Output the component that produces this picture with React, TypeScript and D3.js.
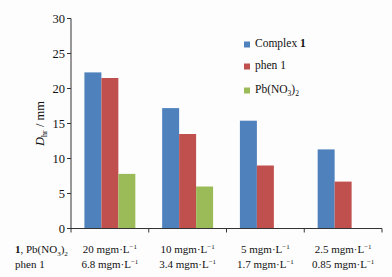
import React from "react";
import * as d3 from "d3";

const categories = ["20 mgm·L", "10 mgm·L", "5 mgm·L", "2.5 mgm·L"];
const phenLabels = ["6.8 mgm·L", "3.4 mgm·L", "1.7 mgm·L", "0.85 mgm·L"];
const series = ["complex", "phen", "pb"];
const complexValues = [22.3, 17.2, 15.4, 11.3];
const phenValues = [21.5, 13.5, 9.0, 6.7];
const pbValues: (number | null)[] = [7.8, 6.0, null, null];
const yTicks = [0, 5, 10, 15, 20, 25, 30];
const colors = ["#4F81BD", "#C0504D", "#9BBB59"];

const W = 392;
const H = 277;
const left = 71;
const right = 382;
const top = 18.5;
const bottom = 228.5;
const font = "'Liberation Serif', 'Times New Roman', serif";

function UnitLabel({ x, y, text }: { x: number; y: number; text: string }) {
  return (
    <text x={x} y={y} textAnchor="middle" fontFamily={font} fontSize={11} fill="#111">
      {text}
      <tspan dy={-4} fontSize={7}>
        −1
      </tspan>
    </text>
  );
}

export default function App() {
  const x0 = d3.scaleBand<string>().domain(categories).range([left, right]).paddingInner(0).paddingOuter(0);
  const x1 = d3.scaleBand<string>().domain(series).range([0, x0.bandwidth()]).paddingInner(0).paddingOuter(0.79);
  const y = d3.scaleLinear().domain([0, 30]).range([bottom, top]);
  const data = [complexValues, phenValues, pbValues];

  const boundaries = categories.map((c) => x0(c)!).concat([right]);

  return (
    <svg width={W} height={H} style={{ position: "absolute", left: 0, top: 0, background: "#fdfdfd" }}>
      <rect x={0} y={0} width={W} height={H} fill="#fdfdfd" />
      {categories.map((c, i) => (
        <g key={c}>
          {series.map((s, j) => {
            const v = data[j][i];
            if (v == null) return null;
            return (
              <rect
                key={s}
                x={x0(c)! + x1(s)!}
                y={y(v)}
                width={x1.bandwidth()}
                height={y(0) - y(v)}
                fill={colors[j]}
              />
            );
          })}
        </g>
      ))}
      <line x1={left} x2={left} y1={y(30)} y2={y(0)} stroke="#333" strokeWidth={1} />
      {yTicks.map((t) => (
        <g key={t}>
          <line x1={left - 4} x2={left} y1={y(t)} y2={y(t)} stroke="#333" />
          <text x={left - 6} y={y(t) + 4.5} textAnchor="end" fontFamily={font} fontSize={12.5} fill="#111">
            {t}
          </text>
        </g>
      ))}
      <line x1={left} x2={right} y1={y(0)} y2={y(0)} stroke="#333" />
      {boundaries.map((b, i) => (
        <line key={i} x1={b} x2={b} y1={y(0)} y2={y(0) + 4} stroke="#333" />
      ))}
      {categories.map((c) => (
        <UnitLabel key={c} x={x0(c)! + x0.bandwidth() / 2} y={253} text={c} />
      ))}
      {phenLabels.map((c, i) => (
        <UnitLabel key={c} x={x0(categories[i])! + x0.bandwidth() / 2} y={268} text={c} />
      ))}
      <text x={15} y={253} fontFamily={font} fontSize={11} fill="#111">
        <tspan fontWeight="bold">1</tspan>, Pb(NO
        <tspan dy={3} fontSize={7}>3</tspan>
        <tspan dy={-3}>)</tspan>
        <tspan dy={3} fontSize={7}>2</tspan>
      </text>
      <text x={15} y={268} fontFamily={font} fontSize={11} fill="#111">
        phen 1
      </text>
      <text
        transform={`translate(44, ${y(15)}) rotate(-90)`}
        textAnchor="middle"
        fontFamily={font}
        fontSize={12.5}
        fill="#111"
      >
        <tspan fontStyle="italic">D</tspan>
        <tspan dy={3} fontSize={8}>hr</tspan>
        <tspan dy={-3}> / mm</tspan>
      </text>
      {[
        { label: "Complex", bold: " 1", y: 47 },
        { label: "phen 1", bold: "", y: 69 },
        { label: "Pb", bold: "", y: 93 },
      ].map((l, i) => (
        <g key={i}>
          <rect x={244} y={l.y - 5.5} width={6} height={6} fill={colors[i]} />
          {i < 2 ? (
            <text x={255} y={l.y} fontFamily={font} fontSize={11.5} fill="#111">
              {l.label}
              {l.bold && <tspan fontWeight="bold">{l.bold}</tspan>}
            </text>
          ) : (
            <text x={255} y={l.y} fontFamily={font} fontSize={11.5} fill="#111">
              Pb(NO
              <tspan dy={3} fontSize={7.5}>3</tspan>
              <tspan dy={-3}>)</tspan>
              <tspan dy={3} fontSize={7.5}>2</tspan>
            </text>
          )}
        </g>
      ))}
    </svg>
  );
}
